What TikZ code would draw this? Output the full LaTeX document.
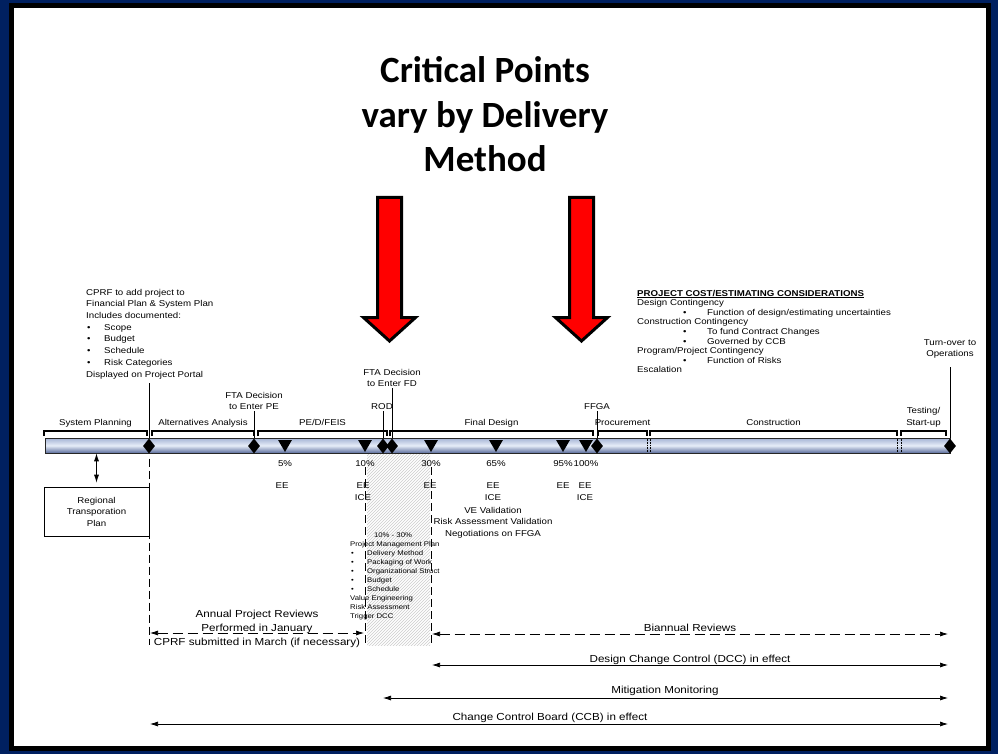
\documentclass[tikz,border=0pt]{standalone}
\usepackage{fontspec}
\setmainfont{Liberation Sans}[FakeStretch=1.14]
\newfontfamily\titlefont{Carlito}
\usetikzlibrary{shapes.geometric,arrows.meta,patterns}

\definecolor{framenavy}{HTML}{002060}
\definecolor{bartop}{HTML}{A3B2D4}
\definecolor{barmid}{HTML}{E6EDF8}
\definecolor{barbot}{HTML}{5B6D9C}
\definecolor{critred}{HTML}{FF0000}

% bullet with a fixed gap before the item text
\newcommand{\bitem}[2]{\makebox[#1][l]{\textbullet}#2}

\begin{document}
\begin{tikzpicture}[x=1pt,y=-1pt]
	\tikzstyle{every node}=[inner sep=0pt,font=\fontsize{8.5}{11.5}\selectfont]
	% multi-line nodes sit on the baseline of their LAST line
	\tikzstyle{lbl}=[align=center,anchor=base]
	\tikzstyle{note}=[align=left,anchor=base west]
	\tikzstyle{big}=[font=\fontsize{10.2}{14}\selectfont]
	\tikzstyle{tiny}=[font=\fontsize{6.8}{9}\selectfont]
	\tikzstyle{milestone}=[diamond,fill=black,minimum width=12pt,minimum height=15pt]
	\tikzstyle{pct}=[regular polygon,regular polygon sides=3,shape border rotate=180,fill=black,minimum size=16pt]
	\tikzstyle{phase}=[line width=1.4pt]
	\tikzstyle{lead}=[line width=0.9pt]
	\tikzstyle{vdash}=[line width=0.7pt,dash pattern=on 8pt off 4pt]
	\tikzstyle{span}=[line width=0.7pt,{Latex[length=8pt,width=5pt]}-{Latex[length=8pt,width=5pt]}]

	\useasboundingbox (0,0) rectangle (998,754);

	% frame
	\fill[framenavy] (0,0) rectangle (998,754);
	\draw[line width=5pt,fill=white] (11,6) rectangle (988,748);

	% title and the two red arrows
	\node[lbl,font=\titlefont\bfseries\fontsize{37}{44.5}\selectfont] (title) at (485,172) {Critical Points\\vary by Delivery\\Method};
	\foreach \x in {389.5,581.5}
		\draw[line width=3pt,fill=critred,miter limit=10] (\x-12,197.5) -- (\x+12,197.5) -- (\x+12,317.5) -- (\x+26,317.5)
			-- (\x,341) -- (\x-26,317.5) -- (\x-12,317.5) -- cycle;

	% 10% - 30% band (hatched)
	\fill[pattern=north east lines,pattern color=black!20] (367,453) rectangle (430,645);

	% the time line
	\node[draw=black!85,line width=0.6pt,top color=bartop,bottom color=barbot,middle color=barmid,
		minimum width=905pt,minimum height=15pt] (bar) at (497.5,445.5) {};
	\foreach \x in {647,650,897,901}
		\draw[densely dotted,line width=0.6pt] (\x,438.5) -- (\x,452.5);

	% phases
	\foreach \a/\b/\n [count=\i] in {44/147/System Planning,152/254/Alternatives Analysis,258/387/{PE/D/FEIS},
		390/593/Final Design,598/647/Procurement,650/897/Construction}
	{
		\draw[phase] (\a,436) -- (\a,431) -- (\b,431) -- (\b,436);
		\node[lbl] (ph\i) at ({(\a+\b)/2},425) {\n};
	}
	\draw[phase] (901,436) -- (901,431) -- (946,431) -- (946,436);
	\node[lbl] (ph7) at (923.5,425) {Testing/\\Start-up};

	% milestones (diamonds)
	\node[milestone] (ms1) at (149,446) {};
	\node[milestone] (ms2) at (254,446) {};
	\node[milestone] (rod) at (383,446) {};
	\node[milestone] (fd) at (392,446) {};
	\node[milestone] (ffga) at (597,446) {};
	\node[milestone] (ops) at (950,446) {};

	% design percentages (triangles)
	\foreach \x/\p [count=\i] in {285/5\%,365/10\%,431/30\%,496/65\%,563/95\%,586/100\%}
	{
		\node[pct] (p\i) at (\x,444) {};
		\node[lbl] (pl\i) at (\x,466) {\p};
	}

	% texts above the line
	\node[note,font=\fontsize{8.5}{11.7}\selectfont] (cprf) at (86,377) {CPRF to add project to\\Financial Plan \& System Plan\\Includes documented:\\
		\hspace*{1pt}\bitem{17pt}{Scope}\\\hspace*{1pt}\bitem{17pt}{Budget}\\\hspace*{1pt}\bitem{17pt}{Schedule}\\
		\hspace*{1pt}\bitem{17pt}{Risk Categories}\\Displayed on Project Portal};
	\node[lbl] (ftape) at (254,409.5) {FTA Decision\\to Enter PE};
	\node[lbl] (ftafd) at (392,386.5) {FTA Decision\\to Enter FD};
	\node[lbl] (rodl) at (382,409) {ROD};
	\node[lbl] (ffgal) at (597,409) {FFGA};
	\node[lbl] (turn) at (950,356.5) {Turn-over to\\Operations};
	\node[note,font=\fontsize{8.5}{9.6}\selectfont] (cost) at (637,372.8) {\textbf{\underline{PROJECT COST/ESTIMATING CONSIDERATIONS}}\\
		Design Contingency\\\hspace*{46pt}\bitem{24pt}{Function of design/estimating uncertainties}\\
		Construction Contingency\\\hspace*{46pt}\bitem{24pt}{To fund Contract Changes}\\\hspace*{46pt}\bitem{24pt}{Governed by CCB}\\
		Program/Project Contingency\\\hspace*{46pt}\bitem{24pt}{Function of Risks}\\Escalation};

	\draw[lead,shorten >=4pt] (ms1.north) -- (ms1.north |- cprf.south);
	\draw[lead,shorten >=1pt] (ms2.north) -- (ms2.north |- ftape.south);
	\draw[lead,shorten >=1pt] (fd.north) -- (fd.north |- ftafd.south);
	\draw[lead,shorten >=1.5pt] (rod.north) -- (rod.north |- rodl.south);
	\draw[lead,shorten >=1.5pt] (ffga.north) -- (ffga.north |- ffgal.south);
	\draw[lead,shorten >=9pt] (ops.north) -- (ops.north |- turn.south);

	% texts below the line
	\node[lbl] (ee1) at (282,488) {EE};
	\node[lbl] (ee2) at (363,500) {EE\\ICE};
	\node[lbl] (ee3) at (430,488) {EE};
	\node[lbl] (ee4) at (493,500) {EE\\ICE};
	\node[lbl] (ee5) at (563,488) {EE};
	\node[lbl] (ee6) at (585,500) {EE\\ICE};
	\node[lbl] (ve) at (493,536) {VE Validation\\Risk Assessment Validation\\Negotiations on FFGA};

	\node[lbl,tiny] (range) at (393,537) {10\% - 30\%};
	\node[note,tiny] (pmp) at (350,618) {Project Management Plan\\\hspace*{1pt}\bitem{16pt}{Delivery Method}\\
		\hspace*{1pt}\bitem{16pt}{Packaging of Work}\\\hspace*{1pt}\bitem{16pt}{Organizational Struct}\\
		\hspace*{1pt}\bitem{16pt}{Budget}\\\hspace*{1pt}\bitem{16pt}{Schedule}\\Value Engineering\\Risk Assessment\\Trigger DCC};

	\node[draw,line width=0.6pt,minimum width=105pt,minimum height=49pt,align=center] (rtp) at (96.5,511.5) {Regional\\Transporation\\Plan};
	\draw[span,shorten >=4pt] (rtp.north |- bar.south) -- (rtp.north);

	% guide lines down to the reviews
	\coordinate (g1) at (149,645);
	\coordinate (g2) at (365,645);
	\coordinate (g3) at (431,645);
	\draw[vdash,shorten <=5pt] (ms1.south) -- (g1);
	\draw[vdash,shorten <=1pt] (pl2.south) -- (g2);
	\draw[vdash,shorten <=1pt] (pl3.south) -- (g3);

	% reviews and controls
	\coordinate (an1) at (150,633);
	\coordinate (an2) at (364,633);
	\coordinate (bi1) at (432,634);
	\coordinate (bi2) at (948,634);
	\coordinate (dcc1) at (432,665);
	\coordinate (dcc2) at (948,665);
	\coordinate (mit1) at (383,698);
	\coordinate (mit2) at (948,698);
	\coordinate (ccb1) at (150,724);
	\coordinate (ccb2) at (948,724);

	\draw[span,dash pattern=on 10pt off 5pt] (an1) -- (an2);
	\draw[span,dash pattern=on 10pt off 5pt] (bi1) -- (bi2);
	\draw[span] (dcc1) -- (dcc2);
	\draw[span] (mit1) -- (mit2);
	\draw[span] (ccb1) -- (ccb2);

	\node[lbl,big] (annual) at (257,631) {Annual Project Reviews\\Performed in January};
	\node[lbl,big] (march) at (257,645) {CPRF submitted in March (if necessary)};
	\node[lbl,big] (biann) at (690,631.5) {Biannual Reviews};
	\node[lbl,big] (dccl) at (690,662) {Design Change Control (DCC) in effect};
	\node[lbl,big] (mitl) at (665,693) {Mitigation Monitoring};
	\node[lbl,big] (ccbl) at (550,720) {Change Control Board (CCB) in effect};
\end{tikzpicture}
\end{document}
